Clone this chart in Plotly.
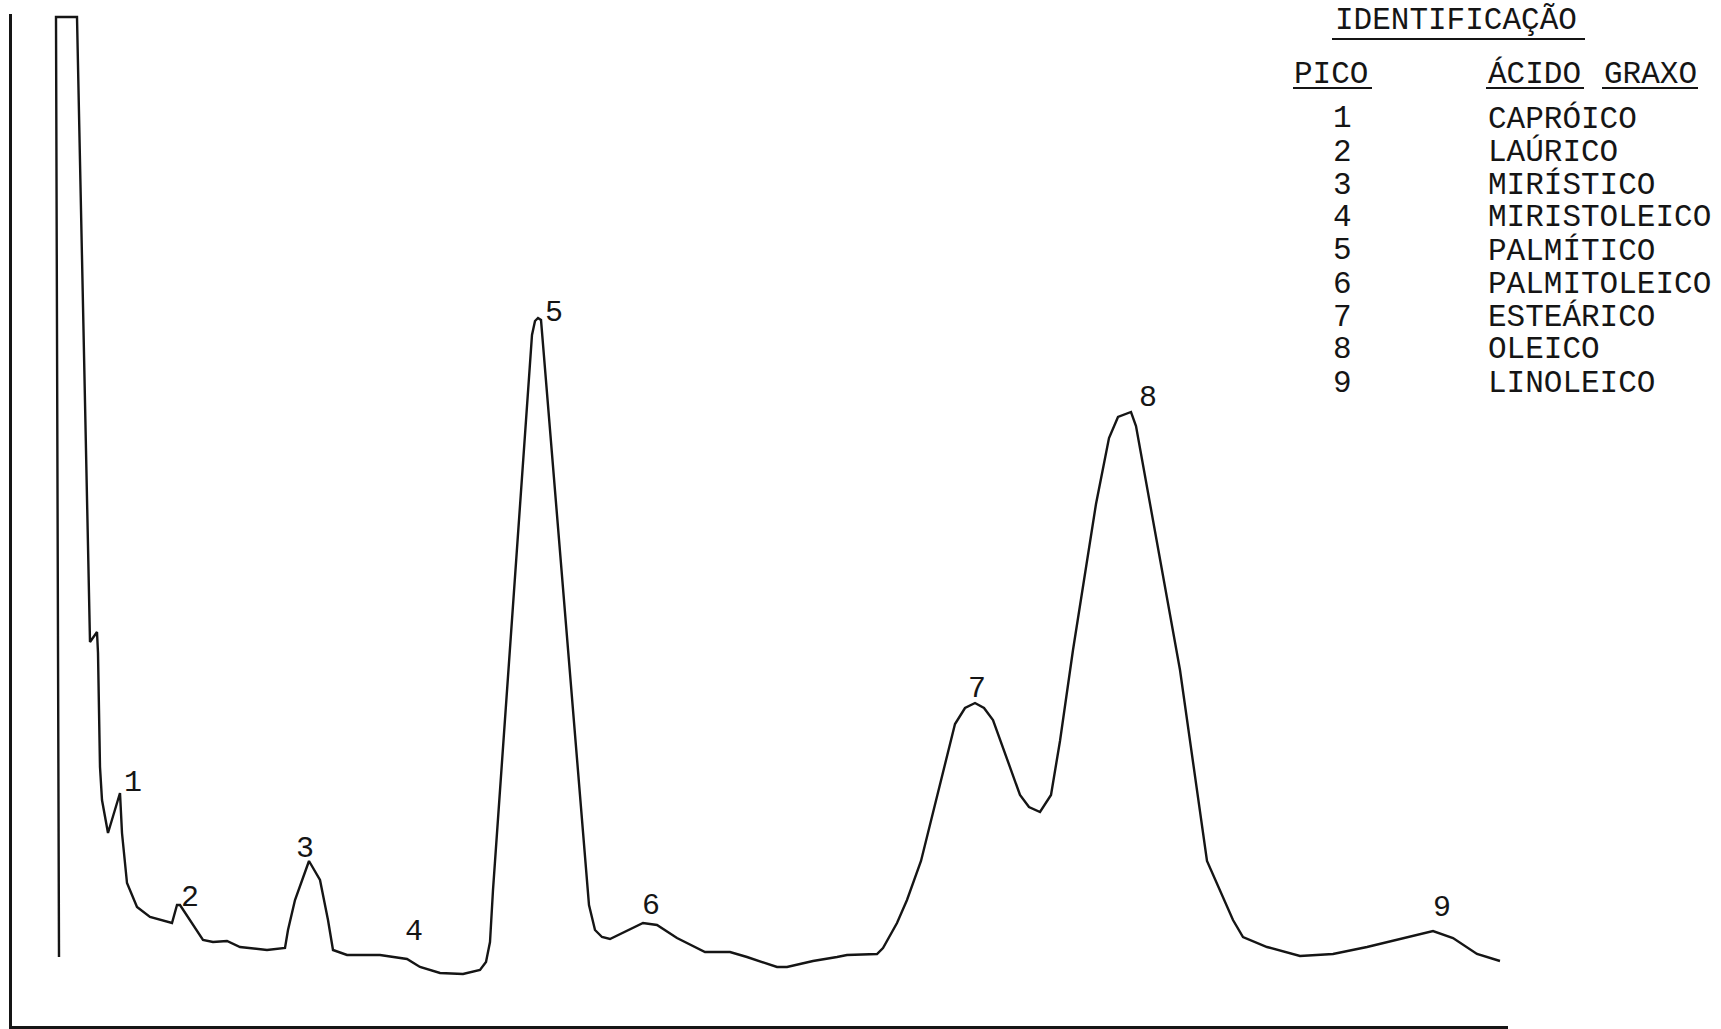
import plotly.graph_objects as go

# Chromatogram trace (arbitrary units)
retention = [47, 44, 65, 77, 78, 85, 86, 88, 90, 96, 108, 110, 115, 125, 138, 160, 165, 168,
             178, 191, 201, 215, 228, 255, 273, 276, 283, 291, 297, 308, 316, 321, 335, 368,
             395, 408, 428, 451, 468, 474, 478, 481, 520, 523, 526, 529, 572, 577, 583,
             590, 598, 611, 631, 645, 665, 693, 718, 735, 765, 775, 801, 825,
             835, 865, 871, 885, 895, 909, 943, 953, 963, 972, 981, 1008, 1017, 1028, 1039,
             1048, 1061, 1084, 1097, 1106, 1119, 1124, 1142, 1168, 1195, 1204, 1221, 1231,
             1255, 1288, 1321, 1355, 1395, 1421, 1441, 1465, 1488]
signal = [69, 1009, 1009, 426, 384, 394, 373, 259, 226, 193, 233, 193, 143, 119, 109, 103, 121, 121,
          106, 86, 84, 85, 79, 76, 78, 96, 126, 149, 165, 146, 106, 76, 71, 71,
          67, 59, 53, 52, 56, 64, 84, 136, 691, 705, 708, 706, 176, 121, 96,
          89, 87, 93, 103, 101, 88, 74, 74, 69, 59, 59, 65, 69,
          71, 72, 78, 103, 126, 165, 302, 318, 323, 318, 306, 231, 219, 214, 231,
          285, 376, 522, 588, 609, 614, 600, 501, 356, 165, 144, 106, 89,
          79, 70, 72, 79, 89, 95, 88, 72, 65]

# Peak identification
peak_numbers = ["1", "2", "3", "4", "5", "6", "7", "8", "9"]
peak_retention = [108, 168, 297, 395, 526, 631, 963, 1119, 1421]
fatty_acids = ["CAPRÓICO", "LAÚRICO", "MIRÍSTICO", "MIRISTOLEICO", "PALMÍTICO",
               "PALMITOLEICO", "ESTEÁRICO", "OLEICO", "LINOLEICO"]
legend_title = "IDENTIFICAÇÃO"
col_headers = ["PICO", "ÁCIDO", "GRAXO"]

W, H = 1721, 1029
L, R, T, B = 12, 213, 14, 3
XR = [0, W - L - R]
YR = [0, H - T - B]

ink = "#151515"
mono = "Liberation Mono, Courier New, monospace"

fig = go.Figure()
fig.add_trace(go.Scatter(x=retention, y=signal, mode="lines",
                         line=dict(color=ink, width=2.4), hoverinfo="skip",
                         showlegend=False))

sig_at = dict(zip(retention, signal))
label_offsets = [(13, 10), (10, 7), (-4, 12), (7, 27), (16, 5), (8, 17), (2, 14), (17, 14), (9, 23)]
for num, rt, (dx, dy) in zip(peak_numbers, peak_retention, label_offsets):
    fig.add_annotation(x=rt, y=sig_at[rt], text=num, showarrow=False,
                       xshift=dx, yshift=dy, xanchor="center", yanchor="middle",
                       font=dict(family=mono, size=30, color=ink))

def px(x):
    return (x - L) / (W - L - R)

def py(y):
    return (H - B - y) / (H - T - B)

fs = 31
fig.add_annotation(xref="paper", yref="paper", x=px(1333), y=py(21), text=legend_title,
                   showarrow=False, xanchor="left", yanchor="middle",
                   font=dict(family=mono, size=fs, color=ink))
fig.add_annotation(xref="paper", yref="paper", x=px(1292), y=py(74), text=col_headers[0],
                   showarrow=False, xanchor="left", yanchor="middle",
                   font=dict(family=mono, size=fs, color=ink))
fig.add_annotation(xref="paper", yref="paper", x=px(1486), y=py(74), text=col_headers[1],
                   showarrow=False, xanchor="left", yanchor="middle",
                   font=dict(family=mono, size=fs, color=ink))
fig.add_annotation(xref="paper", yref="paper", x=px(1602), y=py(74), text=col_headers[2],
                   showarrow=False, xanchor="left", yanchor="middle",
                   font=dict(family=mono, size=fs, color=ink))

row0, dy_row = 119, 33
for i, (num, acid) in enumerate(zip(peak_numbers, fatty_acids)):
    yy = row0 + i * dy_row
    fig.add_annotation(xref="paper", yref="paper", x=px(1342), y=py(yy), text=num,
                       showarrow=False, xanchor="center", yanchor="middle",
                       font=dict(family=mono, size=fs, color=ink))
    fig.add_annotation(xref="paper", yref="paper", x=px(1486), y=py(yy), text=acid,
                       showarrow=False, xanchor="left", yanchor="middle",
                       font=dict(family=mono, size=fs, color=ink))

for (x0, x1, y) in [(1332, 1585, 39), (1293, 1372, 88), (1486, 1584, 88), (1602, 1698, 88)]:
    fig.add_shape(type="line", xref="paper", yref="paper", x0=px(x0), x1=px(x1),
                  y0=py(y), y1=py(y), line=dict(color=ink, width=1.8))

axis_common = dict(showgrid=False, zeroline=False, showticklabels=False, ticks="",
                   showline=True, linecolor=ink, linewidth=3, fixedrange=True)
fig.update_xaxes(range=XR, **axis_common)
fig.update_yaxes(range=YR, **axis_common)

fig.update_layout(width=W, height=H, margin=dict(l=L, r=R, t=T, b=B),
                  paper_bgcolor="white", plot_bgcolor="white", showlegend=False)

fig.write_html("out.html", config={"displayModeBar": False},
               post_script="document.body.style.margin='0';document.body.style.overflow='hidden';")
